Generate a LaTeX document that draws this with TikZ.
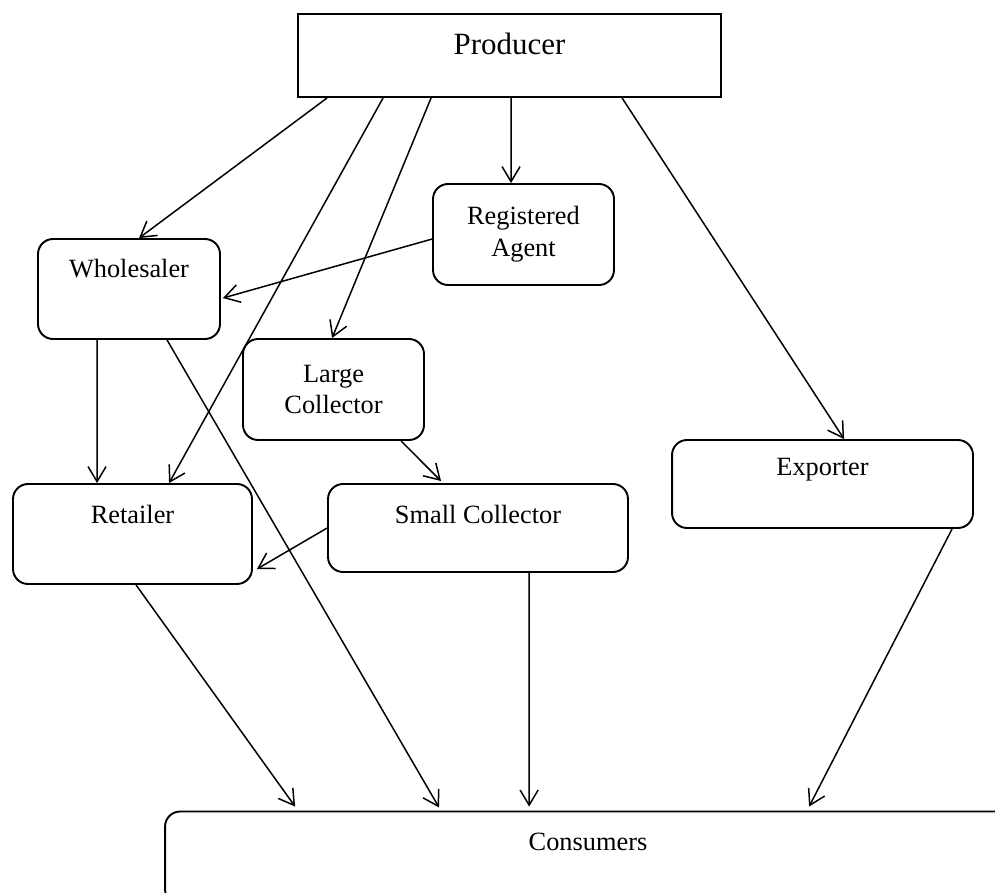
\documentclass[tikz,border=0pt]{standalone}
\usepackage{fontspec}
\setmainfont{Liberation Serif}
\usetikzlibrary{arrows.meta,calc}
\tikzset{
  box/.style={rectangle, rounded corners=0.3cm, draw=black, line width=1.1pt, inner sep=0pt,
              align=center, font=\fontsize{15}{18.2}\selectfont},
  toptext/.style={anchor=center, yshift=-0.62cm, font=\fontsize{15}{18}\selectfont},
  arr/.style={-{Straight Barb[length=3mm, width=3.6mm, line width=0.85pt]}, line width=0.85pt, black},
}
\begin{document}
\begin{tikzpicture}[x=0.02cm, y=-0.02cm]
\useasboundingbox (0,0) rectangle (995,893);
\clip (0,0) rectangle (995,893);
\node[box, rounded corners=0pt, minimum width=8.46cm, minimum height=1.66cm,
      label={[toptext, font=\fontsize{17.6}{20}\selectfont]north:Producer}] (prod) at (509.5,55.5) {};
\node[box, minimum width=3.62cm, minimum height=2.02cm] (agent) at (523.5,234.5) {Registered\\Agent};
\node[box, minimum width=3.64cm, minimum height=2.0cm, label={[toptext]north:Wholesaler}] (whole) at (129,289) {};
\node[box, minimum width=3.62cm, minimum height=2.02cm] (large) at (333.5,389.5) {Large\\Collector};
\node[box, minimum width=6.02cm, minimum height=1.76cm, label={[toptext]north:Exporter}] (expo) at (822.5,484) {};
\node[box, minimum width=4.78cm, minimum height=2.0cm, label={[toptext]north:Retailer}] (retail) at (132.5,534) {};
\node[box, minimum width=6.0cm, minimum height=1.76cm, label={[toptext]north:Small Collector}] (small) at (478,528) {};
\node[box, minimum width=16.92cm, minimum height=1.86cm, label={[toptext]north:Consumers}] (cons) at (588,858) {};
\draw[arr] ($(prod.south west)+(30,0)$) -- ($(whole.north west)+(102,0)$);
\draw[arr] ($(prod.south west)+(86,0)$) -- ($(retail.north west)+(157,0)$);
\draw[arr] ($(prod.south west)+(134,0)$) -- ($(large.north west)+(90,0)$);
\draw[arr] ($(prod.south west)+(214,0)$) -- ($(agent.north west)+(79,0)$);
\draw[arr] ($(prod.south west)+(325,0)$) -- ($(expo.north west)+(173,0)$);
\draw[arr] ($(agent.north west)+(0,56)$) -- ($(whole.north east)+(2,60)$);
\draw[arr] ($(whole.south west)+(60,0)$) -- ($(retail.north west)+(85,0)$);
\draw[arr] ($(whole.south west)+(130,0)$) -- ($(cons.north west)+(275,-3)$);
\draw[arr] ($(large.south west)+(159,0)$) -- ($(small.north west)+(114,-2)$);
\draw[arr] ($(small.north west)+(0,45)$) -- ($(retail.north east)+(4,86)$);
\draw[arr] ($(retail.south west)+(124,0)$) -- ($(cons.north west)+(131,-4)$);
\draw[arr] ($(small.south west)+(202,0)$) -- ($(cons.north west)+(365,-4)$);
\draw[arr] ($(expo.south west)+(281,0)$) -- ($(cons.north west)+(645,-4)$);
\end{tikzpicture}
\end{document}
